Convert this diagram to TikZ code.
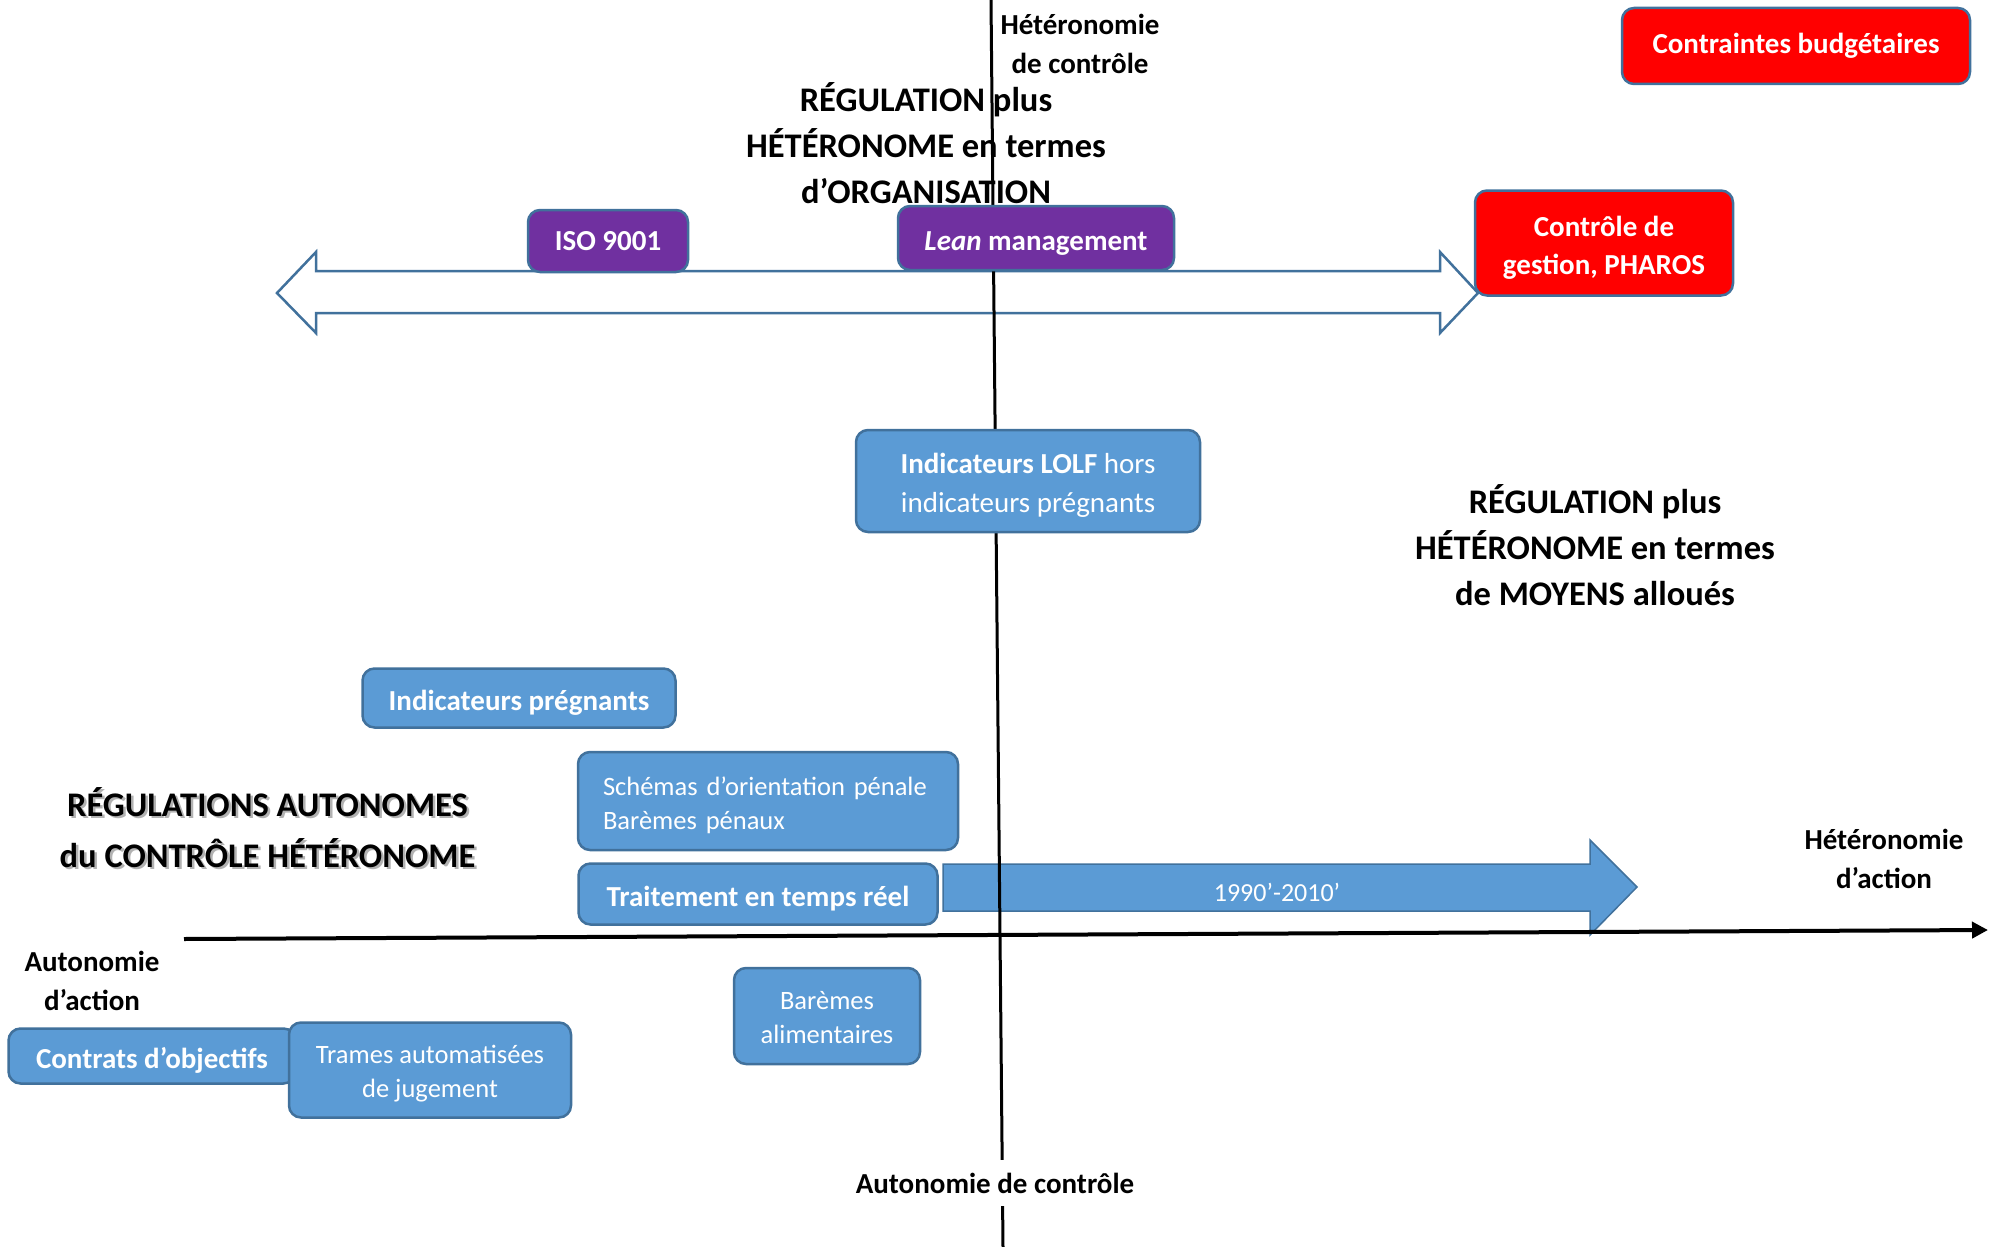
\documentclass[tikz,border=0pt]{standalone}
\usepackage{fontspec}
\setmainfont{Carlito}
\usetikzlibrary{arrows.meta,positioning}
\definecolor{boxblue}{HTML}{5B9BD5}
\definecolor{boxline}{HTML}{41719C}
\definecolor{boxred}{HTML}{FF0000}
\definecolor{boxpurple}{HTML}{7030A0}
\newcommand{\boxtop}{\rule{0pt}{1em}}

\begin{document}
\begin{tikzpicture}
      [x=1pt, y=-1pt,
      box/.style={draw=boxline, line width=2.5pt, rounded corners=12pt, align=center, text=white, inner sep=0pt},
      lowered/.style={execute at begin node={\boxtop}},
      box blue/.style={box, fill=boxblue, font=\fontsize{26.5}{34}\selectfont},
      box blue bold/.style={box, lowered, fill=boxblue, font=\fontsize{29}{38}\selectfont\bfseries},
      box red/.style={box, fill=boxred, font=\fontsize{29}{38}\selectfont\bfseries},
      box purple/.style={box, fill=boxpurple, font=\fontsize{29}{38}\selectfont\bfseries},
      axis label/.style={align=center, inner sep=0pt, font=\fontsize{29}{39}\selectfont\bfseries},
      zone title/.style={align=center, inner sep=0pt, font=\fontsize{34.5}{46}\selectfont\bfseries},
      ]
    \useasboundingbox (0,0) rectangle (1995,1247);

    % double arrow of the organisation axis
    \draw[boxline, line width=2.5pt, fill=white]
      (277,293) -- (316,252) -- (316,271) -- (1440,271) -- (1440,252) -- (1478,293)
      -- (1440,333) -- (1440,313) -- (316,313) -- (316,333) -- cycle;

    % zone titles
    \node[zone title] (orga) at (926,143.5) {RÉGULATION plus\\HÉTÉRONOME en termes\\d’ORGANISATION};
    \node[zone title] (moyens) at (1595,545.5) {RÉGULATION plus\\HÉTÉRONOME en termes\\de MOYENS alloués};
    \node[zone title, text=black!30, font=\fontsize{34.5}{51}\selectfont\bfseries] at (270,830) {RÉGULATIONS AUTONOMES\\du CONTRÔLE HÉTÉRONOME};
    \node[zone title, font=\fontsize{34.5}{51}\selectfont\bfseries] (autonomes) at (267.5,827.5) {RÉGULATIONS AUTONOMES\\du CONTRÔLE HÉTÉRONOME};

    % period arrow
    \draw[boxline, line width=1.5pt, fill=boxblue]
      (943,864) -- (1590,864) -- (1590,840) -- (1637,887) -- (1590,935) -- (1590,911) -- (943,911) -- cycle;
    \node[text=white, font=\fontsize{26}{32}\selectfont] (periode) at (1277,892.5) {1990’-2010’};

    % axes
    \coordinate (vtop) at (991,0);
    \coordinate (vbot) at (1003,1247);
    \coordinate (hleft) at (184,939);
    \coordinate (hright) at (1988,930);
    \draw[line width=3pt] (vtop) -- (vbot);
    \draw[line width=4pt, -{Triangle[length=16pt,width=16pt]}] (hleft) -- (hright);

    \node[axis label] (hetctrl) at (1080,44) {Hétéronomie\\de contrôle};
    \node[axis label] (hetact) at (1884,859) {Hétéronomie\\d’action};
    \node[axis label] (autact) at (92,981) {Autonomie\\d’action};
    \node[axis label, fill=white, inner xsep=4pt, inner ysep=13pt] (autctrl) at (995,1183) {Autonomie de contrôle};

    % boxes
    \node[box red, minimum width=348pt, minimum height=76pt] (budget) at (1796,46) {Contraintes budgétaires};
    \node[box red, minimum width=258pt, minimum height=105pt] (gestion) at (1604,243) {\boxtop Contrôle de\\gestion, PHAROS};
    \node[box purple, minimum width=160pt, minimum height=62pt] (iso) at (608,241) {ISO 9001};
    \node[box purple, lowered, minimum width=276pt, minimum height=64pt] (lean) at (1036,238) {\textit{Lean} management};
    \node[box blue, font=\fontsize{29}{39}\selectfont, minimum width=344pt, minimum height=102pt] (lolf) at (1028,481) {\boxtop\textbf{Indicateurs LOLF} hors\\indicateurs prégnants};
    \node[box blue bold, minimum width=313pt, minimum height=59pt] (pregnants) at (519,698) {Indicateurs prégnants};
    \node[box blue, lowered, align=left, text width=330pt, inner xsep=25pt, minimum height=98pt] (schemas) at (768,801) {Schémas d’orientation pénale\\Barèmes pénaux};
    \node[box blue bold, minimum width=359pt, minimum height=61pt] (temps) at (758,894) {Traitement en temps réel};
    \node[box blue bold, minimum width=287pt, minimum height=55pt] (contrats) at (152,1056) {Contrats d’objectifs};
    \node[box blue, minimum width=282pt, minimum height=95pt] (trames) at (430,1070) {\boxtop Trames automatisées\\de jugement};
    \node[box blue, minimum width=186pt, minimum height=96pt] (baremes) at (827,1016) {\rule{0pt}{0.82em}Barèmes\\alimentaires};
\end{tikzpicture}
\end{document}
